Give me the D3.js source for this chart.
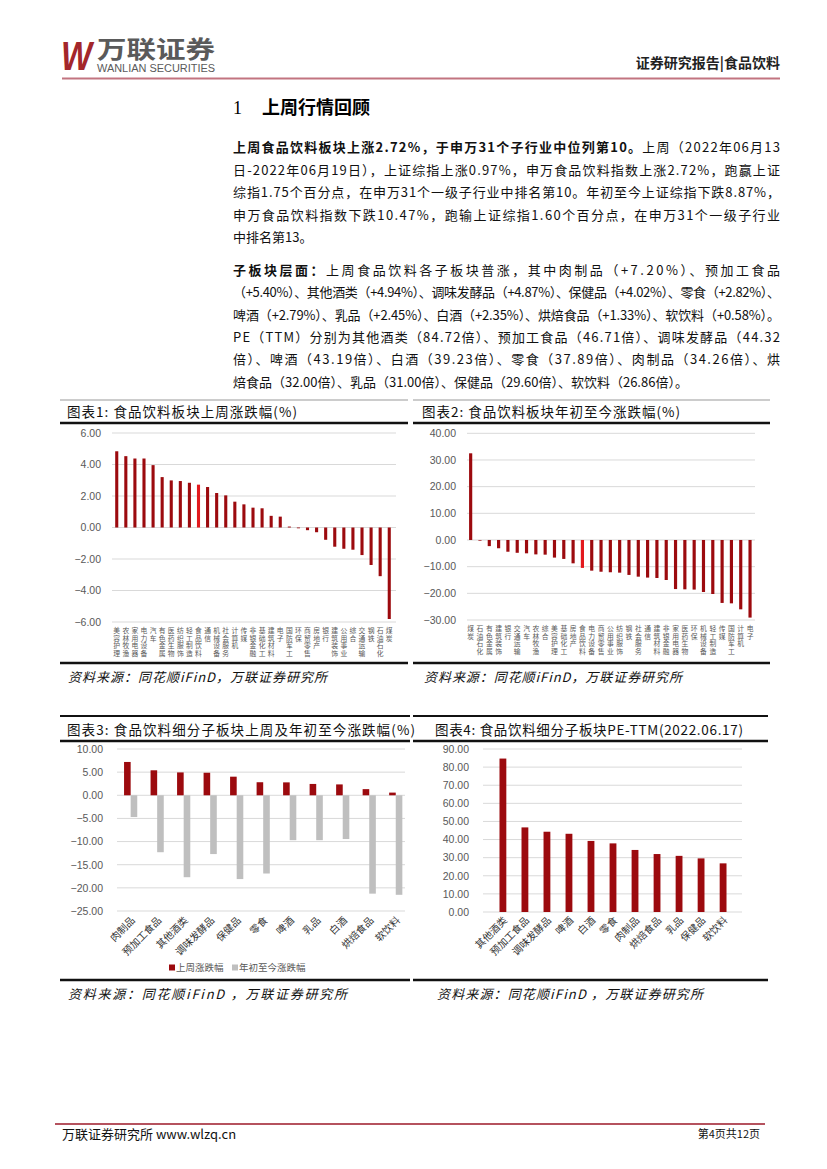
<!DOCTYPE html>
<html><head><meta charset="utf-8">
<script src="https://cdn.jsdelivr.net/npm/d3@7"></script>
<style>
html,body{margin:0;padding:0;background:#fff;}
svg{display:block;font-family:"Noto Sans CJK SC","Noto Sans",sans-serif;}
</style></head>
<body><svg id="page" width="827" height="1169"></svg>
<script>
// ---------- DATA ----------
const weekIndustries = ["美容护理","农林牧渔","家用电器","电力设备","汽车","有色金属","医药生物","纺织服饰","轻工制造","食品饮料","通信","机械设备","社会服务","计算机","传媒","非银金融","基础化工","建筑材料","电子","国防军工","环保","商贸零售","房地产","银行","建筑装饰","公用事业","综合","交通运输","钢铁","石油石化","煤炭"];
const weekChange = [4.84,4.53,4.38,4.38,3.96,3.20,2.99,2.95,2.84,2.72,2.57,2.19,2.04,1.64,1.47,1.26,1.22,0.74,0.69,0.06,-0.05,-0.17,-0.30,-0.78,-1.22,-1.35,-1.41,-1.75,-2.38,-3.09,-5.81];
const ytdIndustries = ["煤炭","石油石化","有色金属","建筑装饰","银行","交通运输","汽车","农林牧渔","综合","美容护理","基础化工","房地产","食品饮料","电力设备","商贸零售","公用事业","纺织服饰","钢铁","社会服务","通信","建筑材料","非银金融","家用电器","医药生物","环保","机械设备","轻工制造","传媒","国防军工","计算机","电子"];
const ytdChange = [32.5,-0.25,-2.3,-3.1,-4.4,-4.8,-5.0,-5.4,-5.5,-6.6,-7.1,-8.75,-10.47,-11.5,-11.9,-12.1,-12.25,-13.1,-13.75,-14.1,-14.25,-15.0,-18.4,-18.5,-18.6,-19.5,-20.25,-23.6,-23.75,-26.0,-29.1];
const highlight = "食品饮料";
const subSectors = ["肉制品","预加工食品","其他酒类","调味发酵品","保健品","零食","啤酒","乳品","白酒","烘焙食品","软饮料"];
const subWeek = [7.20,5.40,4.94,4.87,4.02,2.82,2.79,2.45,2.35,1.33,0.58];
const subYtd = [-4.7,-12.3,-17.7,-12.7,-18.1,-16.9,-9.7,-9.7,-9.45,-21.25,-21.5];
const peSectors = ["其他酒类","预加工食品","调味发酵品","啤酒","白酒","零食","肉制品","烘焙食品","乳品","保健品","软饮料"];
const peValues = [84.72,46.71,44.32,43.19,39.23,37.89,34.26,32.00,31.00,29.60,26.86];
const ticks1 = [-6,-4,-2,0,2,4,6];
const ticks2 = [-30,-20,-10,0,10,20,30,40];
const ticks3 = [-25,-20,-15,-10,-5,0,5,10];
const ticks4 = [0,10,20,30,40,50,60,70,80,90];
const legend3 = ["上周涨跌幅","年初至今涨跌幅"];

// ---------- STYLE ----------
const RED = "#9C0A0E", BRIGHT = "#E3191E", GRAY = "#BFBFBF", GRID = "#D9D9D9", TXT = "#595959";
const svg = d3.select("#page");
const fmt = d3.format(".2f");

// ---------- HEADER ----------
svg.append("text").attr("x",61).attr("y",70).attr("font-size",40).attr("font-weight","bold")
  .attr("font-style","italic").attr("fill","#A3262B").attr("font-family","Liberation Sans, sans-serif")
  .attr("textLength",31).attr("lengthAdjust","spacingAndGlyphs").text("W");
svg.append("text").attr("x",97).attr("y",58).attr("font-size",24).attr("font-weight","bold")
  .attr("fill","#5a5a5a").attr("textLength",118).attr("lengthAdjust","spacingAndGlyphs").text("万联证券");
svg.append("text").attr("x",97).attr("y",72).attr("font-size",10).attr("fill","#5a5a5a")
  .attr("font-family","Liberation Sans, sans-serif").attr("textLength",118).attr("lengthAdjust","spacingAndGlyphs").text("WANLIAN SECURITIES");
svg.append("text").attr("x",780).attr("y",68).attr("text-anchor","end").attr("font-size",14)
  .attr("font-weight","bold").attr("fill","#222").text("证券研究报告|食品饮料");
svg.append("line").attr("x1",62).attr("x2",780).attr("y1",78.5).attr("y2",78.5).attr("stroke","#C27480").attr("stroke-width",2);

// ---------- SECTION TITLE ----------
svg.append("text").attr("x",233).attr("y",114).attr("font-size",18).attr("font-family","Liberation Serif, serif").text("1");
svg.append("text").attr("x",262).attr("y",114).attr("font-size",18).attr("font-weight","bold").text("上周行情回顾");

// ---------- PARAGRAPHS ----------
const para1 = [
  [["上周食品饮料板块上涨2.72%，于申万31个子行业中位列第10。",true],["上周（2022年06月13",false]],
  [["日-2022年06月19日），上证综指上涨0.97%，申万食品饮料指数上涨2.72%，跑赢上证",false]],
  [["综指1.75个百分点，在申万31个一级子行业中排名第10。年初至今上证综指下跌8.87%，",false]],
  [["申万食品饮料指数下跌10.47%，跑输上证综指1.60个百分点，在申万31个一级子行业",false]],
  [["中排名第13。",false]]
];
const para2 = [
  [["子板块层面：",true],["上周食品饮料各子板块普涨，其中肉制品（+7.20%）、预加工食品",false]],
  [["（+5.40%）、其他酒类（+4.94%）、调味发酵品（+4.87%）、保健品（+4.02%）、零食（+2.82%）、",false]],
  [["啤酒（+2.79%）、乳品（+2.45%）、白酒（+2.35%）、烘焙食品（+1.33%）、软饮料（+0.58%）。",false]],
  [["PE（TTM）分别为其他酒类（84.72倍）、预加工食品（46.71倍）、调味发酵品（44.32",false]],
  [["倍）、啤酒（43.19倍）、白酒（39.23倍）、零食（37.89倍）、肉制品（34.26倍）、烘",false]],
  [["焙食品（32.00倍）、乳品（31.00倍）、保健品（29.60倍）、软饮料（26.86倍）。",false]]
];
function drawPara(lines, y0, step){
  lines.forEach((segs,i)=>{
    const t = svg.append("text").attr("x",233).attr("y",y0+i*step).attr("font-size",13).attr("fill","#111");
    segs.forEach(s=>t.append("tspan").attr("font-weight",s[1]?"bold":"normal").text(s[0]));
    if(i<lines.length-1) t.attr("textLength",547).attr("lengthAdjust","spacing");
  });
}
drawPara(para1,152,22.5);
drawPara(para2,275,22.3);

// ---------- CHART FRAMES ----------
function frame(x1,x2,yTop,yTitle,yRule,yBottom,title,titleX,titleLen,source,sourceX,sourceLen,thinTop){
  if(thinTop) svg.append("line").attr("x1",x1).attr("x2",x2).attr("y1",yTop).attr("y2",yTop).attr("stroke","#999").attr("stroke-width",1);
  else svg.append("line").attr("x1",x1).attr("x2",x2).attr("y1",yTop).attr("y2",yTop).attr("stroke","#111").attr("stroke-width",2);
  svg.append("text").attr("x",titleX).attr("y",yTitle).attr("font-size",13.5).attr("fill","#111")
    .attr("textLength",titleLen).attr("lengthAdjust","spacing").text(title);
  svg.append("line").attr("x1",x1).attr("x2",x2).attr("y1",yRule).attr("y2",yRule).attr("stroke","#111").attr("stroke-width",2.5);
  svg.append("line").attr("x1",x1).attr("x2",x2).attr("y1",yBottom).attr("y2",yBottom).attr("stroke","#111").attr("stroke-width",2.5);
  svg.append("text").attr("x",sourceX).attr("y",yBottom+19).attr("font-size",13).attr("font-style","italic")
    .attr("fill","#111").attr("textLength",sourceLen).attr("lengthAdjust","spacing").text(source);
}
frame(60,408,400,417,423,663,"图表1:  食品饮料板块上周涨跌幅(%)",67,230,"资料来源：同花顺iFinD，万联证券研究所",68,259,true);
frame(413,770,400,417,423,663,"图表2:  食品饮料板块年初至今涨跌幅(%)",422,258,"资料来源：同花顺iFinD，万联证券研究所",424,258,true);
frame(60,410,716,735,741,980,"图表3:  食品饮料细分子板块上周及年初至今涨跌幅(%)",67,348,"资料来源：同花顺iFinD ，万联证券研究所",68,279,false);
svg.append("rect").attr("x",418).attr("y",720).attr("width",350).attr("height",19).attr("fill","#fff");
frame(413,768,716,735,741,980,"图表4:  食品饮料细分子板块PE-TTM(2022.06.17)",435,308,"资料来源：同花顺iFinD ，万联证券研究所",437,266,false);

// ---------- helpers ----------
function grid(g,y,ticks,x1,x2,labelX,fs){
  ticks.forEach(t=>{
    g.append("line").attr("x1",x1).attr("x2",x2).attr("y1",y(t)).attr("y2",y(t)).attr("stroke",GRID).attr("stroke-width",1);
    g.append("text").attr("x",labelX).attr("y",y(t)+3.8).attr("text-anchor","end").attr("font-size",fs)
      .attr("fill",TXT).attr("font-family","Liberation Sans, Arial, sans-serif").text(fmt(t));
  });
}
function vlabels(g,x,cats,y0,fs){
  cats.forEach(c=>{
    g.append("text").attr("x",x(c)+x.bandwidth()/2).attr("y",y0)
      .attr("font-size",fs).attr("fill",TXT)
      .style("writing-mode","vertical-rl").style("text-orientation","upright")
      .style("letter-spacing","0.8px").text(c);
  });
}

// ---------- CHART 1 ----------
{
  const g = svg.append("g");
  const y = d3.scaleLinear().domain([-6,6]).range([622,433]);
  const x = d3.scaleBand().domain(weekIndustries).range([112.2,393.8]).paddingInner(0.66).paddingOuter(0.33);
  grid(g,y,ticks1,112,396,101,10.5);
  g.selectAll("rect.b").data(weekIndustries).join("rect")
    .attr("x",d=>x(d)).attr("width",x.bandwidth())
    .attr("y",(d,i)=>y(Math.max(0,weekChange[i]))).attr("height",(d,i)=>Math.abs(y(weekChange[i])-y(0)))
    .attr("fill",d=>d===highlight?BRIGHT:RED);
  vlabels(g,x,weekIndustries,627,6.8);
}
// ---------- CHART 2 ----------
{
  const g = svg.append("g");
  const y = d3.scaleLinear().domain([-30,40]).range([620,433.3]);
  const x = d3.scaleBand().domain(ytdIndustries).range([466,754.7]).paddingInner(0.66).paddingOuter(0.33);
  grid(g,y,ticks2,467,755,456,10.5);
  g.selectAll("rect.b").data(ytdIndustries).join("rect")
    .attr("x",d=>x(d)).attr("width",x.bandwidth())
    .attr("y",(d,i)=>y(Math.max(0,ytdChange[i]))).attr("height",(d,i)=>Math.abs(y(ytdChange[i])-y(0)))
    .attr("fill",d=>d===highlight?BRIGHT:RED);
  vlabels(g,x,ytdIndustries,625,6.8);
}
// ---------- CHART 3 ----------
{
  const g = svg.append("g");
  const y = d3.scaleLinear().domain([-25,10]).range([911,749]);
  const x = d3.scaleBand().domain(subSectors).range([117.4,409]);
  const bw = 6.6;
  grid(g,y,ticks3,117,405,103,10.5);
  g.selectAll("rect.w").data(subSectors).join("rect")
    .attr("x",d=>x(d)+x.bandwidth()/2-bw).attr("width",bw)
    .attr("y",(d,i)=>y(Math.max(0,subWeek[i]))).attr("height",(d,i)=>Math.abs(y(subWeek[i])-y(0))).attr("fill",RED);
  g.selectAll("rect.y").data(subSectors).join("rect")
    .attr("x",d=>x(d)+x.bandwidth()/2).attr("width",bw)
    .attr("y",(d,i)=>y(Math.max(0,subYtd[i]))).attr("height",(d,i)=>Math.abs(y(subYtd[i])-y(0))).attr("fill",GRAY);
  subSectors.forEach(c=>{
    const cx = x(c)+x.bandwidth()/2+5, cy = 921;
    g.append("text").attr("transform",`translate(${cx},${cy}) rotate(-45)`).attr("text-anchor","end")
      .attr("font-size",10).attr("fill","#333").text(c);
  });
  const lg = g.append("g").attr("transform","translate(169,971)");
  lg.append("rect").attr("x",0).attr("y",-6.5).attr("width",6).attr("height",6).attr("fill",RED);
  lg.append("text").attr("x",7).attr("y",0).attr("font-size",9.5).attr("fill",TXT).text(legend3[0]);
  lg.append("rect").attr("x",63).attr("y",-6.5).attr("width",6).attr("height",6).attr("fill",GRAY);
  lg.append("text").attr("x",70).attr("y",0).attr("font-size",9.5).attr("fill",TXT).text(legend3[1]);
}
// ---------- CHART 4 ----------
{
  const g = svg.append("g");
  const y = d3.scaleLinear().domain([0,90]).range([912,749]);
  const x = d3.scaleBand().domain(peSectors).range([484.3,741.7]).padding(0.69);
  grid(g,y,ticks4,483,742,469,10.5);
  g.selectAll("rect.b").data(peSectors).join("rect")
    .attr("x",d=>x(d)).attr("width",x.bandwidth())
    .attr("y",(d,i)=>y(peValues[i])).attr("height",(d,i)=>y(0)-y(peValues[i])).attr("fill",RED);
  peSectors.forEach(c=>{
    const cx = x(c)+x.bandwidth()/2+5, cy = 921;
    g.append("text").attr("transform",`translate(${cx},${cy}) rotate(-45)`).attr("text-anchor","end")
      .attr("font-size",10).attr("fill","#333").text(c);
  });
}

// ---------- FOOTER ----------
svg.append("line").attr("x1",55).attr("x2",765).attr("y1",1124).attr("y2",1124).attr("stroke","#B5525E").attr("stroke-width",2);
svg.append("text").attr("x",62).attr("y",1139).attr("font-size",13).attr("fill","#111").text("万联证券研究所  www.wlzq.cn");
svg.append("text").attr("x",760).attr("y",1138).attr("text-anchor","end").attr("font-size",11).attr("fill","#111").text("第4页共12页");
</script></body></html>
